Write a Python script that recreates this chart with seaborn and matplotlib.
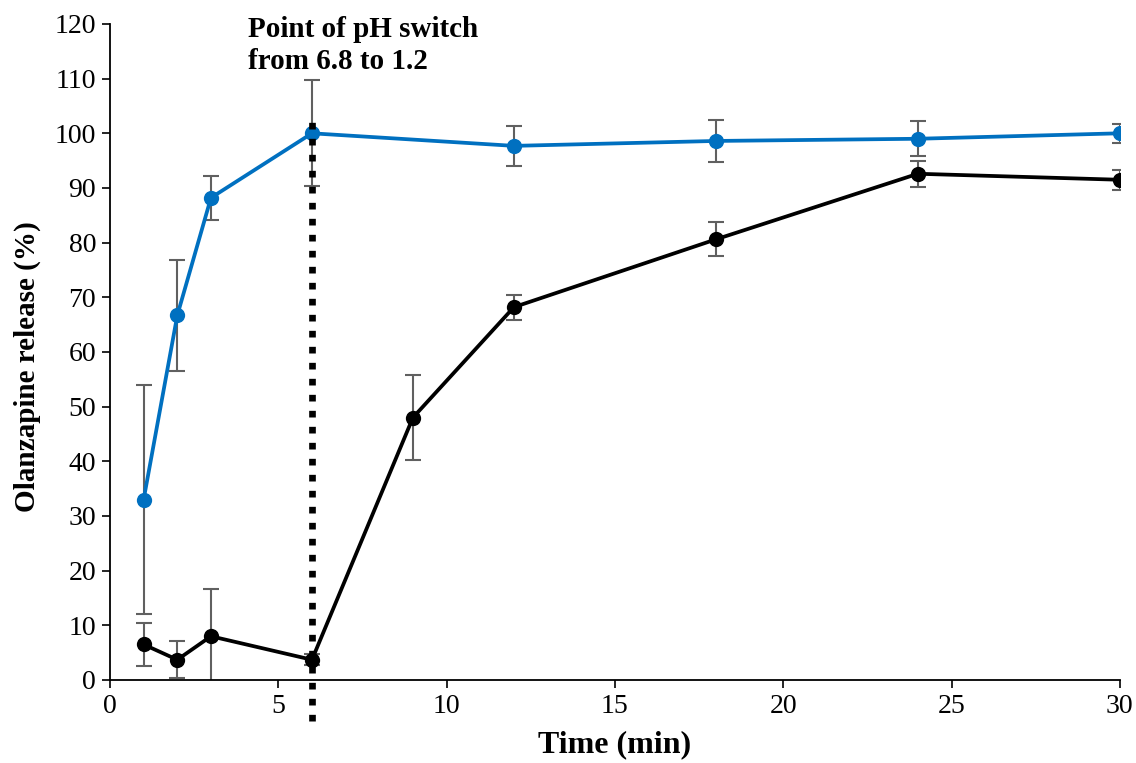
import matplotlib
matplotlib.use("Agg")
import matplotlib.pyplot as plt
import seaborn as sns
import pandas as pd

sns.set_theme(style="white")
plt.rcParams['font.family'] = ['Liberation Serif', 'DejaVu Serif']
plt.rcParams['text.color'] = 'black'
plt.rcParams['axes.labelcolor'] = 'black'
plt.rcParams['xtick.color'] = 'black'
plt.rcParams['ytick.color'] = 'black'

time_blue = [1, 2, 3, 6, 12, 18, 24, 30]
release_blue = [33.0, 66.7, 88.2, 100.0, 97.7, 98.6, 99.0, 100.0]
err_blue = [21.0, 10.2, 4.0, 9.7, 3.7, 3.8, 3.2, 1.7]

time_black = [1, 2, 3, 6, 9, 12, 18, 24, 30]
release_black = [6.5, 3.7, 8.0, 3.7, 48.0, 68.2, 80.6, 92.6, 91.5]
err_black = [4.0, 3.4, 8.6, 1.0, 7.8, 2.3, 3.1, 2.4, 1.8]

x_ticks = [0, 5, 10, 15, 20, 25, 30]
y_ticks = list(range(0, 121, 10))
switch_time = 6

df_blue = pd.DataFrame({"t": time_blue, "r": release_blue, "e": err_blue})
df_black = pd.DataFrame({"t": time_black, "r": release_black, "e": err_black})

fig = plt.figure(figsize=(11.36, 7.63), dpi=100)
ax = fig.add_axes([0.0968, 0.1088, 0.889, 0.8598])

blue = "#0070C0"
for df, col in [(df_blue, blue), (df_black, "black")]:
    ax.errorbar(df["t"], df["r"], yerr=df["e"], fmt="none", ecolor="#606060",
                elinewidth=1.5, capsize=6, capthick=1.5, zorder=2, clip_on=True)
    sns.lineplot(data=df, x="t", y="r", ax=ax, color=col, linewidth=2.7,
                 marker="o", markersize=11, markeredgewidth=0, zorder=3)

ax.plot([switch_time, switch_time], [-7.5, 103], color="black", linewidth=4.8,
        linestyle=(0, (1.0, 1.4)), clip_on=False, zorder=5)

ax.text(4.1, 121.4, "Point of pH switch\nfrom 6.8 to 1.2", fontsize=21,
        fontweight="bold", va="top", ha="left", linespacing=1.2)

ax.set_xlim(0, 30)
ax.set_ylim(0, 120)
ax.set_xticks(x_ticks)
ax.set_yticks(y_ticks)
ax.set_xlabel("Time (min)", fontsize=23, fontweight="bold", labelpad=8)
ax.set_ylabel("Olanzapine release (%)", fontsize=21, fontweight="bold")
ax.yaxis.set_label_coords(-0.068, 0.477)
ax.tick_params(axis="both", labelsize=20, direction="out", length=6, width=1.2,
               color="black", bottom=True, left=True, pad=4)
for s in ["top", "right"]:
    ax.spines[s].set_visible(False)
for s in ["left", "bottom"]:
    ax.spines[s].set_color("black")
    ax.spines[s].set_linewidth(1.3)

fig.savefig("out.png", dpi=100)
